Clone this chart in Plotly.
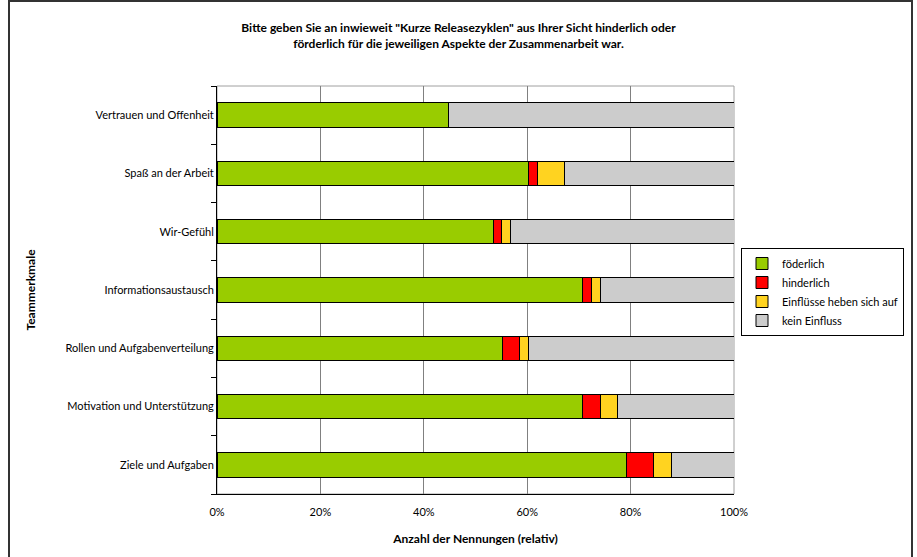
import plotly.graph_objects as go

categories = [
    "Ziele und Aufgaben",
    "Motivation und Unterstützung",
    "Rollen und Aufgabenverteilung",
    "Informationsaustausch",
    "Wir-Gefühl",
    "Spaß an der Arbeit",
    "Vertrauen und Offenheit",
]
foerderlich = [79.3, 70.7, 55.2, 70.7, 53.4, 60.3, 44.8]
hinderlich = [5.2, 3.4, 3.4, 1.7, 1.7, 1.7, 0.0]
heben_auf = [3.4, 3.4, 1.7, 1.7, 1.7, 5.2, 0.0]
kein_einfluss = [12.1, 22.5, 39.7, 25.9, 43.2, 32.8, 55.2]

series_names = ["föderlich", "hinderlich", "Einflüsse heben sich auf", "kein Einfluss"]
series_values = [foerderlich, hinderlich, heben_auf, kein_einfluss]
series_colors = ["#99CC00", "#FF0000", "#FFD320", "#CCCCCC"]

x_ticks = [0, 20, 40, 60, 80, 100]
x_tick_labels = ["0%", "20%", "40%", "60%", "80%", "100%"]

FONT = "Lato, 'Open Sans', sans-serif"

fig = go.Figure()
for name, vals, col in zip(series_names, series_values, series_colors):
    fig.add_trace(go.Bar(
        y=categories, x=vals, name=name, orientation="h",
        marker=dict(color=col, line=dict(color="#000000", width=1)),
    ))

W, H = 917, 557
L, R, T, B = 217, 734, 86, 494
pw, ph = R - L, B - T

def px(xp):
    return (xp - L) / pw

def py(yp):
    return (B - yp) / ph

fig.update_layout(
    width=W, height=H,
    barmode="stack", bargap=0.58,
    margin=dict(l=L, r=W - R, t=T, b=H - B, pad=0, autoexpand=False),
    paper_bgcolor="white", plot_bgcolor="white",
    font=dict(family=FONT, size=11, color="#000000"),
    title=dict(
        text="Bitte geben Sie an inwieweit \"Kurze Releasezyklen\" aus Ihrer Sicht hinderlich oder<br>förderlich für die jeweiligen Aspekte der Zusammenarbeit war.",
        font=dict(family=FONT, size=12, color="#000000", weight="bold"),
        x=0.5, xref="container", xanchor="center",
        y=1 - 32 / H, yref="container", yanchor="top",
    ),
    xaxis=dict(
        range=[0, 100], tickvals=x_ticks, ticktext=x_tick_labels,
        showgrid=True, gridcolor="#808080", gridwidth=1,
        showline=True, linecolor="#000000", linewidth=1,
        ticks="outside", ticklen=8, tickcolor="rgba(0,0,0,0)",
        zeroline=False, fixedrange=True, automargin=False,
        title=dict(text="Anzahl der Nennungen (relativ)",
                   font=dict(family=FONT, size=12, color="#000000", weight="bold"),
                   standoff=17),
    ),
    yaxis=dict(
        type="category", categoryorder="array", categoryarray=categories,
        showline=True, linecolor="#000000", linewidth=1,
        ticks="outside", ticklen=5, tickcolor="#000000", tickson="boundaries",
        showgrid=False, fixedrange=True, automargin=False,
        title=dict(text="Teammerkmale",
                   font=dict(family=FONT, size=12, color="#000000", weight="bold"),
                   standoff=27),
    ),
    legend=dict(
        x=px(741), y=py(248), xanchor="left", yanchor="top",
        xref="paper", yref="paper",
        bordercolor="#000000", borderwidth=1, bgcolor="white",
        font=dict(family=FONT, size=11, color="#000000"),
        traceorder="normal", tracegroupgap=0,
    ),
    shapes=[
        dict(type="rect", xref="paper", yref="paper", x0=0, x1=1, y0=0, y1=1,
             line=dict(color="#A0A0A0", width=1), layer="below"),
        dict(type="rect", xref="paper", yref="paper",
             x0=px(9), x1=px(912), y0=py(600), y1=py(1),
             line=dict(color="#333333", width=2), layer="above"),
    ],
    showlegend=True,
)

fig.write_html(
    "out.html",
    config={"displayModeBar": False},
    post_script="document.body.style.margin='0';document.body.style.overflow='hidden';",
)
